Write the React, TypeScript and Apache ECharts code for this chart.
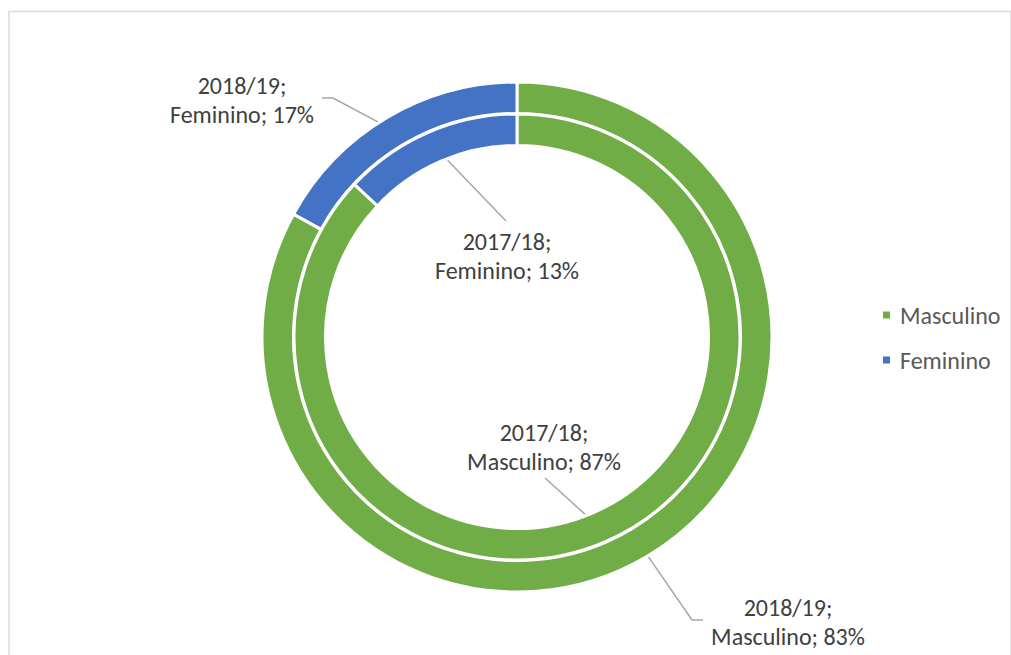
import React, { useEffect, useRef } from "react";
import * as echarts from "echarts";

const categories = ["Masculino", "Feminino"];
const seasons = ["2018/19", "2017/18"];
const values2018_19 = [83, 17];
const values2017_18 = [87, 13];
const colors = ["#70AD47", "#4472C4"];

const CX = 517;
const CY = 337;
const OUTER_R: [number, number] = [223.5, 255];
const INNER_R: [number, number] = [191.5, 223];

// label placement (annotation layout, not data)
const LABEL_LAYOUT = [
  [
    { x: 788, y: 622, end: [703, 620], elbow: [692, 620] },
    { x: 242, y: 100, end: [322, 98], elbow: [333, 98] },
  ],
  [
    { x: 544, y: 447, end: [545, 478], elbow: null },
    { x: 507, y: 256, end: [506, 221], elbow: null },
  ],
];

function midPoint(values: number[], idx: number, radius: [number, number]) {
  const total = values.reduce((a, b) => a + b, 0);
  let before = 0;
  for (let i = 0; i < idx; i++) before += values[i];
  const frac = (before + values[idx] / 2) / total;
  const ang = frac * Math.PI * 2;
  const r = (radius[0] + radius[1]) / 2;
  return [CX + r * Math.sin(ang), CY - r * Math.cos(ang)];
}

export default function App() {
  const ref = useRef<HTMLDivElement>(null);
  useEffect(() => {
    document.body.style.margin = "0";
    const chart = echarts.init(ref.current!, null, { renderer: "svg" });
    const font = "Carlito, Calibri, Lato, sans-serif";
    const seriesValues = [values2018_19, values2017_18];
    const radii = [OUTER_R, INNER_R];
    const mkSeries = (si: number) => ({
      type: "pie",
      name: seasons[si],
      center: [CX, CY],
      radius: radii[si],
      startAngle: 90,
      clockwise: true,
      avoidLabelOverlap: false,
      itemStyle: { borderColor: "#ffffff", borderWidth: 3 },
      emphasis: { disabled: true },
      label: {
        show: true,
        position: "outside",
        formatter: (p: any) => `${p.seriesName};\n${p.name}; ${p.percent}%`,
        color: "#404040",
        fontSize: 24,
        fontFamily: font,
        lineHeight: 29,
        align: "center",
      },
      labelLine: {
        show: true,
        lineStyle: { color: "#A6A6A6", width: 1.5 },
      },
      labelLayout: (params: any) => {
        const cfg = LABEL_LAYOUT[params.seriesIndex][params.dataIndex];
        const start = midPoint(seriesValues[params.seriesIndex], params.dataIndex, radii[params.seriesIndex]);
        const pts: number[][] = [start];
        if (cfg.elbow) pts.push(cfg.elbow);
        pts.push(cfg.end);
        return {
          x: cfg.x,
          y: cfg.y,
          align: "center",
          verticalAlign: "middle",
          labelLinePoints: pts,
        };
      },
      data: categories.map((c, i) => ({
        name: c,
        value: seriesValues[si][i],
        itemStyle: { color: colors[i] },
      })),
    });
    chart.setOption({
      animation: false,
      backgroundColor: "#ffffff",
      legend: {
        orient: "vertical",
        left: 876,
        top: 298,
        itemWidth: 9,
        itemHeight: 9,
        itemGap: 21,
        icon: "rect",
        data: categories,
        textStyle: {
          color: "#595959",
          fontSize: 24,
          fontFamily: font,
          lineHeight: 24,
          padding: [0, 0, 0, 4],
        },
      },
      graphic: [
        {
          type: "rect",
          silent: true,
          shape: { x: 9, y: 11.5, width: 1002, height: 700 },
          style: { fill: "none", stroke: "#D9D9D9", lineWidth: 1.5 },
        },
      ],
      series: [mkSeries(0), mkSeries(1)],
    });
    return () => chart.dispose();
  }, []);
  return (
    <div
      ref={ref}
      style={{ position: "absolute", left: 0, top: 0, width: 1011, height: 655 }}
    />
  );
}
